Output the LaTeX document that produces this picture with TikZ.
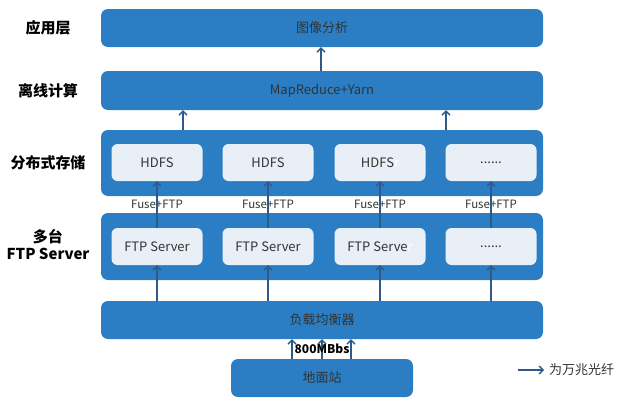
\documentclass[tikz,border=0pt]{standalone}
\usepackage{fontspec}
\setmainfont{Noto Sans CJK SC}
\usetikzlibrary{arrows.meta,calc}
\definecolor{boxblue}{HTML}{2B7EC3}
\definecolor{innerfill}{HTML}{E9EFF6}
\definecolor{arrblue}{HTML}{2D5A8A}
\definecolor{txt}{HTML}{333333}
\begin{document}
\begin{tikzpicture}[x=1pt,y=-1pt,
  layer/.style={draw=none,fill=boxblue,rounded corners=7pt,minimum width=442pt,inner sep=0pt,font=\fontsize{13}{14}\selectfont,text=txt},
  inbox/.style={draw=none,fill=innerfill,rounded corners=6pt,minimum width=91pt,minimum height=37pt,inner sep=0pt,font=\fontsize{13}{14}\selectfont,text=txt},
  side/.style={font=\fontsize{15}{16}\selectfont\bfseries,text=black,align=center},
  arr/.style={draw=arrblue,line width=1.4pt,-{Straight Barb[length=4pt,width=8pt,line width=1.3pt]}},
  fuse/.style={font=\fontsize{11.5}{12}\selectfont,text=txt,inner sep=0pt}]
\useasboundingbox (0,0) rectangle (622,407);
% layers
\node[layer,minimum height=38pt] (app) at (322,28) {图像分析};
\node[layer,minimum height=39pt] (off) at (322,90.5) {MapReduce+Yarn};
\node[layer,minimum height=66pt] (hdfsL) at (322,163) {};
\node[layer,minimum height=67pt] (ftpL) at (322,246.5) {};
\node[layer,minimum height=38pt] (lb) at (322,320) {负载均衡器};
\node[layer,minimum width=182pt,minimum height=38pt] (gs) at (322,378) {地面站};
% side labels
\node[side] (s1) at (48,28) {应用层};
\node[side] (s2) at (48,90.5) {离线计算};
\node[side] (s3) at (48,163) {分布式存储};
\node[side,font=\fontsize{15}{17}\selectfont\bfseries] (s4) at (48,245) {多台\\FTP Server};
% inner boxes
\node[inbox] (h1) at (157,162.5) {HDFS};
\node[inbox] (h2) at (268,162.5) {HDFS};
\node[inbox] (h3) at (380,162.5) {HDFS{\color{white}r}};
\node[inbox] (h4) at (491,162.5) {......};
\node[inbox] (f1) at (157,246.5) {FTP Server};
\node[inbox] (f2) at (268,246.5) {FTP Server};
\node[inbox] (f3) at (380,246.5) {FTP Serve{\color{white}r}};
\node[inbox] (f4) at (491,246.5) {......};
% fuse labels
\foreach \i/\x in {1/157,2/268,3/380,4/491}{
  \node[fuse] (fu\i) at (\x,204) {Fuse+FTP};
}
% arrows
\foreach \i in {1,2,3,4}{
  \draw[arr] (lb.north -| f\i) -- (f\i.south);
  \draw[arr] (f\i.north) -- (h\i.south);
}
\draw[arr] (hdfsL.north -| 183,0) -- (off.south -| 183,0);
\draw[arr] (hdfsL.north -| 446,0) -- (off.south -| 446,0);
\draw[arr] (off.north -| 321,0) -- (app.south -| 321,0);
\foreach \x in {292,322,351}{
  \draw[arr] (gs.north -| \x,0) -- (lb.south -| \x,0);
}
\node[font=\fontsize{12}{13}\selectfont\bfseries,text=black,inner sep=0pt] (bw) at (322,349) {800MBbs};
% legend
\coordinate (l1) at (518,370);
\coordinate (l2) at (544,370);
\draw[arr] (l1) -- (l2);
\node[anchor=west,font=\fontsize{13}{14}\selectfont,text=txt,inner sep=0pt] (lt) at (549,370) {为万兆光纤};
\end{tikzpicture}
\end{document}
